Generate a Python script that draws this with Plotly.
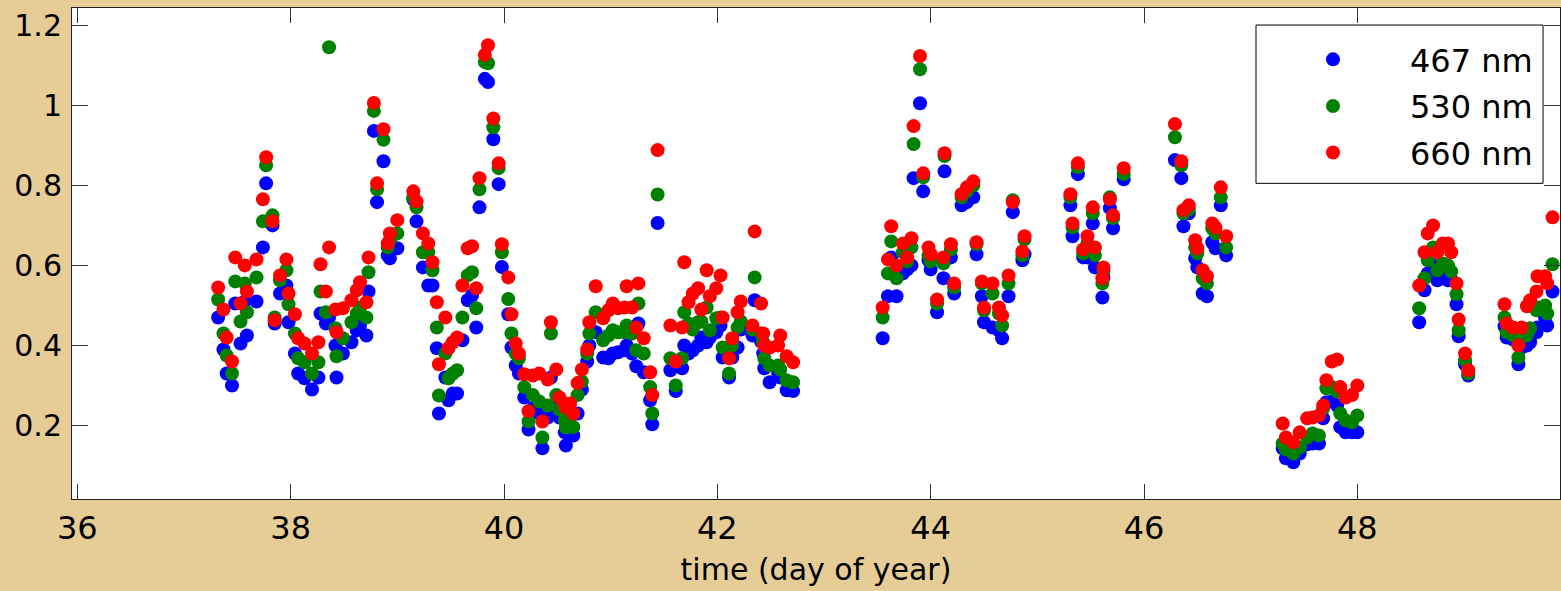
import plotly.graph_objects as go

# Sampling times (day of year) shared by the three channels
day = [
    37.32, 37.37, 37.40, 37.45, 37.48, 37.53, 37.57, 37.59, 37.68, 37.74,
    37.77, 37.83, 37.85, 37.90, 37.96, 37.98, 38.04, 38.07, 38.13, 38.20,
    38.26, 38.28, 38.33, 38.36, 38.42, 38.43, 38.49, 38.57, 38.62, 38.65,
    38.71, 38.73, 38.78, 38.81, 38.87, 38.91, 38.93, 39.00, 39.15, 39.18,
    39.24, 39.29, 39.33, 39.37, 39.39, 39.45, 39.48, 39.52, 39.56, 39.61,
    39.66, 39.70, 39.74, 39.77, 39.82, 39.85, 39.90, 39.95, 39.98,
    40.04, 40.07, 40.11, 40.14, 40.19, 40.23, 40.27, 40.33, 40.36, 40.41,
    40.44, 40.49, 40.52, 40.57, 40.58, 40.62, 40.65, 40.69, 40.73, 40.78,
    40.80, 40.86, 40.93, 40.98, 41.02, 41.07, 41.13, 41.15, 41.20, 41.24,
    41.26, 41.31, 41.37, 41.39, 41.44, 41.56, 41.61, 41.67, 41.69, 41.73,
    41.77, 41.82, 41.85, 41.90, 41.93, 41.99, 42.03, 42.05, 42.11, 42.14,
    42.19, 42.22, 42.33, 42.35, 42.41, 42.43, 42.44, 42.49, 42.57, 42.59,
    42.65, 42.71,
    43.55, 43.60, 43.63, 43.68, 43.74, 43.78, 43.82, 43.84, 43.90, 43.93,
    43.98, 44.00, 44.06, 44.12, 44.13, 44.19, 44.22, 44.29, 44.34, 44.40,
    44.43, 44.48, 44.50, 44.58, 44.64, 44.67, 44.73, 44.77, 44.86, 44.88,
    45.31, 45.33, 45.38, 45.43, 45.47, 45.52, 45.54, 45.61, 45.62, 45.68,
    45.71, 45.81, 46.29, 46.35, 46.37, 46.42, 46.48, 46.50, 46.55, 46.59,
    46.64, 46.67, 46.72, 46.77,
    47.30, 47.33, 47.40, 47.46, 47.53, 47.58, 47.64, 47.68, 47.71, 47.76,
    47.81, 47.84, 47.89, 47.95, 48.00,
    48.58, 48.63, 48.66, 48.71, 48.75, 48.80, 48.85, 48.88, 48.93, 48.95,
    49.01, 49.04, 49.38, 49.40, 49.46, 49.51, 49.54, 49.59, 49.62, 49.68,
    49.69, 49.76, 49.78, 49.83,
]

# 467 nm channel
blue_467 = [
    0.470, 0.390, 0.330, 0.300, 0.505, 0.405, 0.510, 0.425, 0.510, 0.645,
    0.805, 0.700, 0.455, 0.530, 0.550, 0.458, 0.380, 0.330, 0.318, 0.290,
    0.320, 0.480, 0.455, 0.470, 0.400, 0.320, 0.380, 0.408, 0.438, 0.450,
    0.425, 0.535, 0.936, 0.758, 0.860, 0.625, 0.618, 0.643, 0.765, 0.710,
    0.595, 0.550, 0.550, 0.393, 0.230, 0.320, 0.263, 0.280, 0.280, 0.413,
    0.513, 0.525, 0.445, 0.745, 1.066, 1.058, 0.915, 0.803, 0.596,
    0.478, 0.395, 0.350, 0.330, 0.270, 0.190, 0.243, 0.230, 0.143, 0.220,
    0.320, 0.246, 0.220, 0.183, 0.150, 0.190, 0.175, 0.230, 0.290, 0.360,
    0.400, 0.433, 0.370, 0.368, 0.380, 0.383, 0.388, 0.400, 0.380, 0.348,
    0.455, 0.333, 0.263, 0.203, 0.706, 0.338, 0.286, 0.343, 0.400, 0.380,
    0.388, 0.400, 0.420, 0.408, 0.420, 0.433, 0.450, 0.370, 0.320, 0.370,
    0.395, 0.440, 0.425, 0.513, 0.410, 0.380, 0.343, 0.308, 0.330, 0.320,
    0.288, 0.286,
    0.418, 0.523, 0.620, 0.523, 0.580, 0.590, 0.600, 0.818, 1.005, 0.785,
    0.613, 0.590, 0.483, 0.568, 0.835, 0.620, 0.530, 0.750, 0.758, 0.770,
    0.628, 0.523, 0.458, 0.445, 0.438, 0.418, 0.523, 0.733, 0.613, 0.628,
    0.750, 0.673, 0.828, 0.620, 0.620, 0.705, 0.595, 0.520, 0.570, 0.743,
    0.693, 0.815, 0.863, 0.818, 0.698, 0.730, 0.618, 0.595, 0.530, 0.523,
    0.658, 0.643, 0.750, 0.625,
    0.143, 0.118, 0.108, 0.130, 0.153, 0.155, 0.155, 0.218, 0.258, 0.260,
    0.250, 0.196, 0.183, 0.183, 0.183,
    0.458, 0.538, 0.580, 0.600, 0.563, 0.575, 0.563, 0.565, 0.503, 0.423,
    0.353, 0.325, 0.448, 0.420, 0.415, 0.353, 0.395, 0.400, 0.408, 0.433,
    0.445, 0.470, 0.450, 0.535,
]

# 530 nm channel
green_530 = [
    0.515, 0.430, 0.375, 0.330, 0.560, 0.460, 0.555, 0.483, 0.570, 0.710,
    0.850, 0.725, 0.470, 0.563, 0.588, 0.503, 0.430, 0.368, 0.358, 0.330,
    0.358, 0.535, 0.483, 1.145, 0.443, 0.373, 0.418, 0.458, 0.480, 0.495,
    0.470, 0.583, 0.986, 0.790, 0.914, 0.645, 0.663, 0.680, 0.770, 0.745,
    0.633, 0.633, 0.588, 0.445, 0.275, 0.380, 0.318, 0.330, 0.338, 0.470,
    0.575, 0.583, 0.493, 0.790, 1.108, 1.105, 0.945, 0.843, 0.633,
    0.516, 0.430, 0.380, 0.368, 0.296, 0.210, 0.276, 0.260, 0.170, 0.250,
    0.430, 0.276, 0.240, 0.213, 0.195, 0.220, 0.196, 0.276, 0.310, 0.380,
    0.430, 0.483, 0.413, 0.425, 0.438, 0.433, 0.433, 0.450, 0.430, 0.388,
    0.505, 0.380, 0.296, 0.230, 0.777, 0.368, 0.300, 0.368, 0.483, 0.455,
    0.440, 0.458, 0.460, 0.495, 0.438, 0.468, 0.470, 0.395, 0.330, 0.400,
    0.445, 0.460, 0.440, 0.570, 0.430, 0.408, 0.368, 0.350, 0.350, 0.340,
    0.313, 0.308,
    0.470, 0.580, 0.660, 0.568, 0.633, 0.610, 0.645, 0.903, 1.090, 0.820,
    0.625, 0.610, 0.505, 0.605, 0.873, 0.640, 0.545, 0.770, 0.785, 0.800,
    0.653, 0.555, 0.488, 0.530, 0.480, 0.450, 0.555, 0.763, 0.625, 0.665,
    0.770, 0.695, 0.845, 0.630, 0.655, 0.730, 0.625, 0.555, 0.585, 0.770,
    0.718, 0.828, 0.920, 0.850, 0.730, 0.740, 0.645, 0.630, 0.568, 0.555,
    0.693, 0.680, 0.770, 0.645,
    0.155, 0.140, 0.130, 0.145, 0.170, 0.180, 0.175, 0.243, 0.293, 0.296,
    0.285, 0.230, 0.213, 0.208, 0.225,
    0.493, 0.568, 0.613, 0.645, 0.588, 0.605, 0.600, 0.585, 0.528, 0.438,
    0.363, 0.330, 0.470, 0.433, 0.425, 0.370, 0.420, 0.425, 0.443, 0.488,
    0.495, 0.500, 0.480, 0.603,
]

# 660 nm channel
red_660 = [
    0.545, 0.490, 0.420, 0.360, 0.620, 0.505, 0.600, 0.535, 0.615, 0.765,
    0.870, 0.710, 0.463, 0.575, 0.615, 0.530, 0.478, 0.418, 0.405, 0.380,
    0.408, 0.603, 0.535, 0.645, 0.490, 0.433, 0.493, 0.513, 0.538, 0.558,
    0.508, 0.620, 1.006, 0.805, 0.940, 0.655, 0.680, 0.713, 0.785, 0.760,
    0.680, 0.655, 0.608, 0.508, 0.353, 0.470, 0.393, 0.408, 0.420, 0.550,
    0.643, 0.648, 0.543, 0.818, 1.126, 1.150, 0.967, 0.855, 0.653,
    0.570, 0.478, 0.405, 0.380, 0.328, 0.236, 0.325, 0.330, 0.210, 0.315,
    0.458, 0.340, 0.270, 0.255, 0.245, 0.255, 0.230, 0.306, 0.340, 0.390,
    0.458, 0.548, 0.468, 0.488, 0.505, 0.493, 0.495, 0.548, 0.495, 0.445,
    0.555, 0.418, 0.333, 0.276, 0.888, 0.450, 0.360, 0.445, 0.608, 0.508,
    0.530, 0.543, 0.490, 0.588, 0.523, 0.543, 0.575, 0.470, 0.368, 0.418,
    0.483, 0.510, 0.450, 0.685, 0.505, 0.430, 0.400, 0.395, 0.400, 0.425,
    0.373, 0.358,
    0.495, 0.615, 0.698, 0.600, 0.655, 0.620, 0.668, 0.948, 1.123, 0.830,
    0.645, 0.628, 0.515, 0.620, 0.880, 0.653, 0.555, 0.778, 0.795, 0.810,
    0.658, 0.560, 0.495, 0.555, 0.495, 0.475, 0.575, 0.758, 0.635, 0.673,
    0.778, 0.705, 0.855, 0.640, 0.673, 0.745, 0.645, 0.568, 0.595, 0.765,
    0.725, 0.843, 0.953, 0.860, 0.738, 0.750, 0.663, 0.643, 0.588, 0.573,
    0.705, 0.695, 0.795, 0.673,
    0.205, 0.170, 0.158, 0.183, 0.218, 0.220, 0.225, 0.250, 0.313, 0.360,
    0.365, 0.296, 0.270, 0.276, 0.300,
    0.550, 0.633, 0.680, 0.700, 0.633, 0.655, 0.655, 0.633, 0.555, 0.465,
    0.380, 0.338, 0.503, 0.455, 0.445, 0.400, 0.445, 0.498, 0.513, 0.535,
    0.573, 0.573, 0.555, 0.720,
]

x_ticks = [36, 38, 40, 42, 44, 46, 48]
y_ticks = [0.2, 0.4, 0.6, 0.8, 1.0, 1.2]

channels = [
    ("467 nm", blue_467, "#0000ff"),
    ("530 nm", green_530, "#008000"),
    ("660 nm", red_660, "#ff0000"),
]

fig = go.Figure()
for label, values, colour in channels:
    fig.add_trace(go.Scatter(
        x=day, y=values, mode="markers", name=label, legendgroup=label,
        marker=dict(symbol="circle", size=14, color=colour, line=dict(width=0)),
    ))

axis_common = dict(
    showline=True, linecolor="#222222", linewidth=1, mirror="ticks",
    ticks="inside", tickcolor="#333333", tickwidth=1,
    showgrid=False, zeroline=False, automargin=False,
)

fig.update_layout(
    width=1561, height=591,
    margin=dict(l=72, r=1, t=8, b=92),
    paper_bgcolor="#e6cd96",
    plot_bgcolor="#ffffff",
    font=dict(family="DejaVu Sans", color="#000000"),
    showlegend=True,
    xaxis=dict(
        range=[35.95, 49.9], tickvals=x_ticks, ticklen=15,
        tickfont=dict(size=32), ticklabelstandoff=1,
        title=dict(text="time (day of year)", font=dict(size=30), standoff=12),
        **axis_common,
    ),
    yaxis=dict(
        range=[0.0165, 1.243], tickvals=y_ticks, ticklen=16,
        tickfont=dict(size=30), ticklabelstandoff=3,
        **axis_common,
    ),
    legend=dict(
        x=0.7957, y=0.951, xanchor="left", yanchor="top",
        bgcolor="rgba(0,0,0,0)", borderwidth=0,
        font=dict(size=32), itemwidth=144, tracegroupgap=2,
    ),
    shapes=[dict(
        type="rect", xref="paper", yref="paper",
        x0=0.7957, x1=0.9886, y0=0.6429, y1=0.9653,
        fillcolor="#ffffff", line=dict(color="#000000", width=1), layer="above",
    )],
)

fig.write_html("out.html")
